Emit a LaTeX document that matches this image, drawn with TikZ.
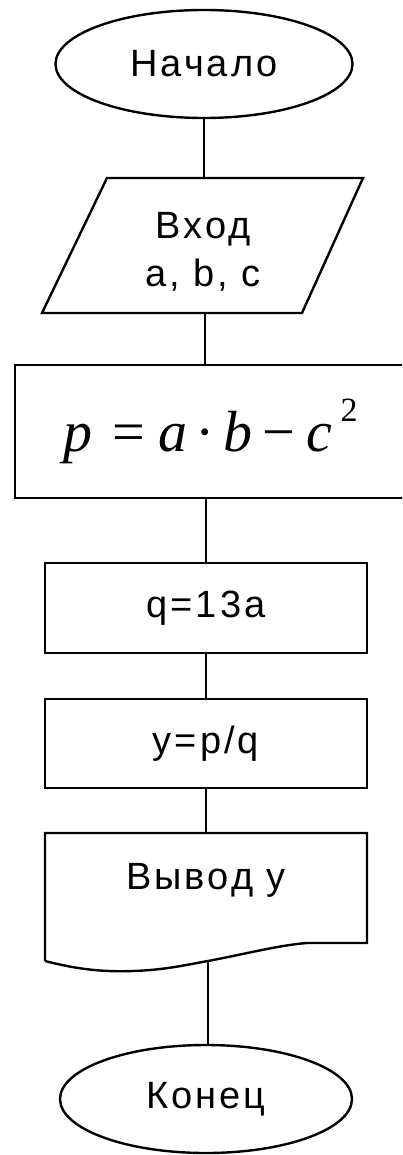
\documentclass[tikz,border=0pt]{standalone}
\usepackage{fontspec}
\setmainfont{Liberation Sans}
\newfontfamily\eqserif{Liberation Serif}
\usetikzlibrary{shapes.geometric}
\tikzset{
  conn/.style={line width=2.4pt},
  box/.style={draw, line width=2.4pt, minimum width=322pt, inner sep=0pt, font=\lblfont},
  term/.style={draw, ellipse, line width=2.4pt, inner sep=0pt, font=\lblfont},
  lbl/.style={inner sep=0pt, font=\lblfont, align=center},
}
\newcommand{\lblfont}{\fontsize{38}{48}\selectfont\addfontfeature{LetterSpace=8}}
\newcommand{\sqtwo}{\raisebox{30pt}{\fontsize{34}{36}\selectfont 2}}
\begin{document}
\begin{tikzpicture}[x=1pt,y=-1pt]
\useasboundingbox (0,0) rectangle (402,1155);
\fill[white] (0,0) rectangle (402,1155);
\clip (0,0) rectangle (402,1155);
% start
\node[term, minimum width=297pt, minimum height=108pt] (start) at (204,64) {Начало};
% input parallelogram
\coordinate (inT) at (205,178);
\coordinate (inB) at (205,313);
\draw[conn, line join=miter] (107,178) -- (363,178) -- (302,313) -- (42,313) -- cycle;
\node[lbl] (intext) at (203,252) {Вход\\a,\ b,\ c};
% computation p
\node[draw, line width=2.4pt, minimum width=405pt, minimum height=133pt, inner sep=0pt] (calc) at (217.5,431.5) {};
\node[inner sep=0pt, anchor=base west, font=\fontsize{58}{66}\selectfont\eqserif] (calctext) at (63,451)
  {\textit{p}\hspace{20pt}=\hspace{14pt}\textit{a}\hspace{8pt}·\hspace{8pt}\textit{b}\hspace{10pt}−\hspace{12pt}\textit{c}\hspace{8pt}\sqtwo};
% q
\node[box, minimum height=90pt] (q) at (206,608) {q=13a};
% y
\node[box, minimum height=89pt] (y) at (206,743.5) {y=p/q};
% output document
\coordinate (outT) at (206,833);
\coordinate (outB) at (208,961);
\draw[conn, line join=miter] (45,961) -- (45,833) -- (367,833) -- (367,943) -- (307,943)
  .. controls (280,945) and (245,954) .. (208,961)
  .. controls (185,965) and (165,970) .. (133,971)
  .. controls (105,972) and (80,970) .. (45,961);
\node[lbl] (outtext) at (206,880) {Вывод y};
% end
\node[term, minimum width=292pt, minimum height=108pt] (end) at (206,1099) {Конец};
% connectors
\draw[conn] (start.south) -- (start.south |- inT);
\draw[conn] (inB) -- (inB |- calc.north);
\draw[conn] (q.north |- calc.south) -- (q.north);
\draw[conn] (q.south) -- (y.north);
\draw[conn] (y.south) -- (outT);
\draw[conn] (outB) -- (outB |- end.north);
\end{tikzpicture}
\end{document}
